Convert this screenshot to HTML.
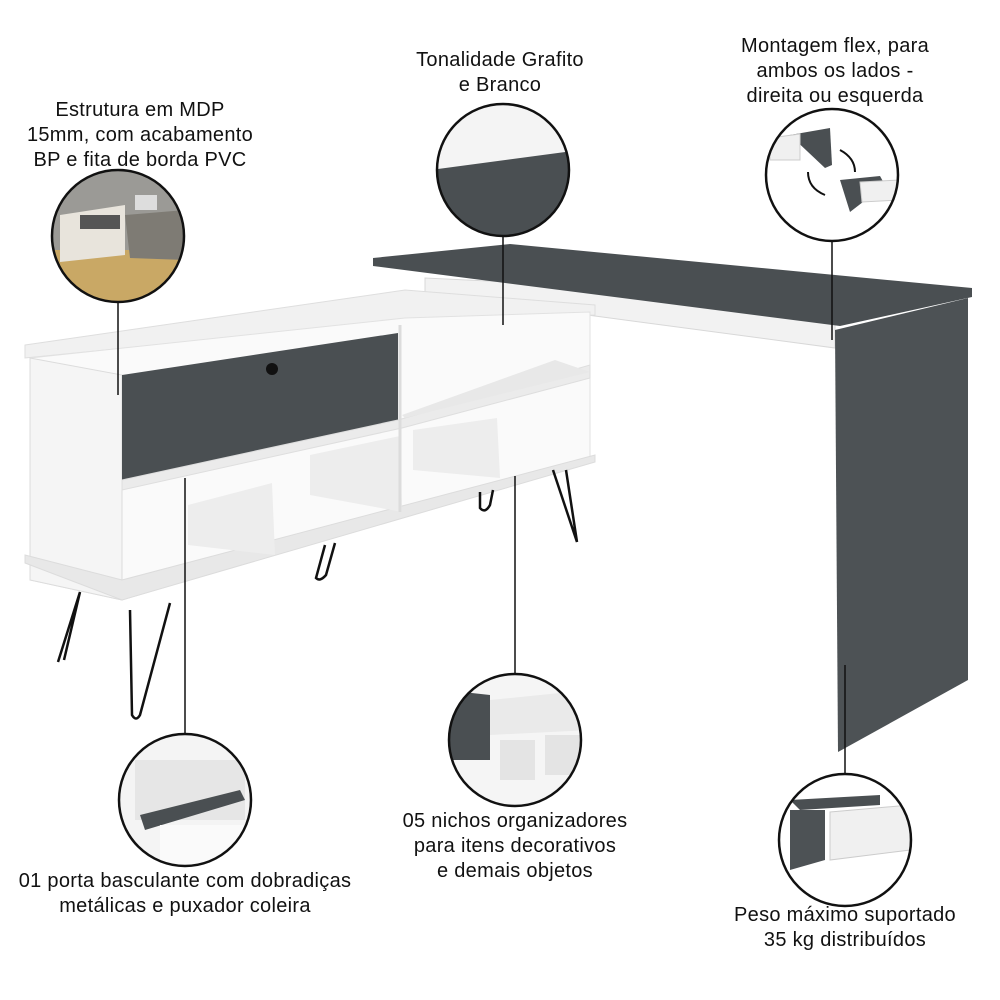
<!DOCTYPE html>
<html><head><meta charset="utf-8"><style>
html,body{margin:0;padding:0;background:#fff;}
.t{position:absolute;font-family:"Liberation Sans",sans-serif;font-size:20px;letter-spacing:0.3px;line-height:25px;text-align:center;color:#111;white-space:nowrap;}
</style></head><body>
<div style="position:relative;width:1000px;height:1000px;overflow:hidden;">
<svg width="1000" height="1000" viewBox="0 0 1000 1000" style="position:absolute;left:0;top:0">
<defs>
<clipPath id="c1"><circle cx="118" cy="236" r="66"/></clipPath>
<clipPath id="c2"><circle cx="503" cy="170" r="66"/></clipPath>
<clipPath id="c3"><circle cx="832" cy="175" r="66"/></clipPath>
<clipPath id="c4"><circle cx="185" cy="800" r="66"/></clipPath>
<clipPath id="c5"><circle cx="515" cy="740" r="66"/></clipPath>
<clipPath id="c6"><circle cx="845" cy="840" r="66"/></clipPath>
</defs>
<!-- desk -->
<polygon points="425,278 425,300 505,304 835,348 835,324 510,282" fill="#f2f2f2" stroke="#d8d8d8"/>
<polygon points="373,258 510,244 972,288 972,297 840,326 373,266" fill="#4a4f52"/>
<polygon points="835,330 968,298 968,680 838,752" fill="#4d5255"/>
<!-- cabinet -->
<polygon points="25,345 405,290 595,305 595,315 405,320 25,358" fill="#f1f1f1" stroke="#dedede"/>
<polygon points="30,358 405,318 590,312 590,460 122,600 30,580" fill="#fafafa" stroke="#e2e2e2"/>
<polygon points="30,358 122,375 122,600 30,580" fill="#f5f5f5" stroke="#dcdcdc"/>
<polygon points="25,555 122,580 595,455 595,462 122,600 25,563" fill="#e8e8e8" stroke="#dcdcdc"/>
<polygon points="122,375 398,333 398,420 122,480" fill="#4a4f52"/>
<circle cx="272" cy="369" r="6" fill="#111"/>
<polygon points="122,480 398,420 590,365 590,378 402,428 122,490" fill="#ebebeb" stroke="#dedede"/>
<polygon points="402,415 555,360 590,372 405,418" fill="#e8e8e8"/>
<polygon points="188,505 272,483 275,555 188,545" fill="#ededed"/>
<polygon points="310,455 400,436 402,512 310,495" fill="#ededed"/>
<polygon points="413,430 497,418 500,478 413,470" fill="#ededed"/>
<line x1="400" y1="325" x2="400" y2="512" stroke="#dcdcdc" stroke-width="3"/>
<!-- legs -->
<g stroke="#111" stroke-width="2.5" fill="none">
<path d="M80,592 L58,662 M80,592 L64,660"/>
<path d="M130,610 L132,715 Q136,722 140,715 L170,603"/>
<path d="M325,545 L316,578 Q320,582 326,575 L335,543"/>
<path d="M480,492 L480,508 Q485,514 490,505 L493,490"/>
<path d="M553,470 L577,542 L566,470"/>
</g>
<g stroke="#111" stroke-width="1.5">
<line x1="118" y1="302" x2="118" y2="395"/>
<line x1="503" y1="236" x2="503" y2="325"/>
<line x1="832" y1="241" x2="832" y2="340"/>
<line x1="185" y1="734" x2="185" y2="478"/>
<line x1="515" y1="674" x2="515" y2="476"/>
<line x1="845" y1="774" x2="845" y2="665"/>
</g>
<g clip-path="url(#c1)">
<rect x="50" y="168" width="140" height="140" fill="#9b9a96"/>
<rect x="50" y="250" width="140" height="60" fill="#c9a865"/>
<polygon points="60,215 125,205 125,255 60,262" fill="#e8e4dc"/>
<rect x="80" y="215" width="40" height="14" fill="#555"/>
<polygon points="125,215 185,210 185,260 130,258" fill="#7e7b74"/>
<rect x="135" y="195" width="22" height="15" fill="#ddd"/>
</g>
<g clip-path="url(#c2)">
<rect x="430" y="100" width="150" height="150" fill="#f4f4f4"/>
<polygon points="430,170 580,150 580,250 430,250" fill="#4a4f52"/>
</g>
<g clip-path="url(#c3)">
<rect x="760" y="105" width="150" height="150" fill="#fff"/>
<polygon points="790,135 830,128 832,165 825,168" fill="#4a4f52"/>
<polygon points="770,138 800,134 800,160 770,160" fill="#f0f0f0" stroke="#ccc"/>
<polygon points="840,180 880,176 885,185 850,212" fill="#4a4f52"/>
<polygon points="860,182 900,180 900,200 862,202" fill="#f0f0f0" stroke="#ccc"/>
<path d="M840,150 Q855,158 855,172" stroke="#111" stroke-width="2" fill="none"/>
<path d="M825,195 Q808,188 808,172" stroke="#111" stroke-width="2" fill="none"/>
</g>
<g clip-path="url(#c4)">
<rect x="115" y="730" width="150" height="150" fill="#f4f4f4"/>
<rect x="135" y="760" width="110" height="60" fill="#e6e6e6"/>
<polygon points="140,815 240,790 245,800 145,830" fill="#4a4f52"/>
<rect x="160" y="825" width="90" height="40" fill="#fafafa"/>
</g>
<g clip-path="url(#c5)">
<rect x="445" y="670" width="150" height="150" fill="#f5f5f5"/>
<polygon points="445,690 490,695 490,760 445,760" fill="#4a4f52"/>
<polygon points="490,700 590,690 590,730 490,735" fill="#eaeaea"/>
<rect x="500" y="740" width="35" height="40" fill="#e4e4e4"/>
<rect x="545" y="735" width="40" height="40" fill="#e4e4e4"/>
</g>
<g clip-path="url(#c6)">
<rect x="775" y="770" width="150" height="150" fill="#fff"/>
<polygon points="790,800 880,795 880,805 800,810" fill="#4a4f52"/>
<polygon points="790,810 825,810 825,860 790,870" fill="#4d5255"/>
<polygon points="830,812 910,805 910,850 830,860" fill="#f0f0f0" stroke="#ccc"/>
</g>
<g fill="none" stroke="#111" stroke-width="2.5">
<circle cx="118" cy="236" r="66"/>
<circle cx="503" cy="170" r="66"/>
<circle cx="832" cy="175" r="66"/>
<circle cx="185" cy="800" r="66"/>
<circle cx="515" cy="740" r="66"/>
<circle cx="845" cy="840" r="66"/>
</g>
</svg>
<div class="t" style="left:10px;top:98px;width:260px;">Estrutura em MDP<br>15mm, com acabamento<br>BP e fita de borda PVC</div>
<div class="t" style="left:390px;top:48px;width:220px;">Tonalidade Grafito<br>e Branco</div>
<div class="t" style="left:710px;top:34px;width:250px;">Montagem flex, para<br>ambos os lados -<br>direita ou esquerda</div>
<div class="t" style="left:0px;top:869px;width:370px;">01 porta basculante com dobradiças<br>metálicas e puxador coleira</div>
<div class="t" style="left:370px;top:809px;width:290px;">05 nichos organizadores<br>para itens decorativos<br>e demais objetos</div>
<div class="t" style="left:710px;top:903px;width:270px;">Peso máximo suportado<br>35 kg distribuídos</div>
</div>
</body></html>
